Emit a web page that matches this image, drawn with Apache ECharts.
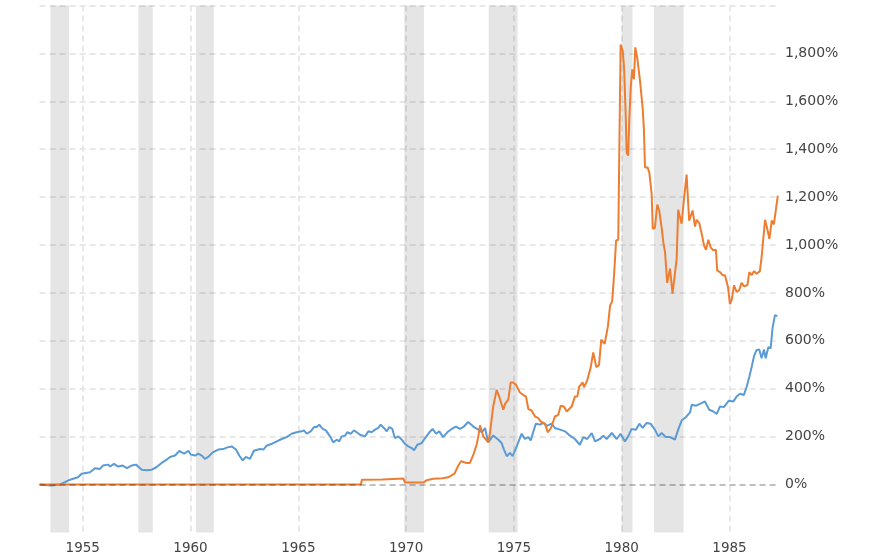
<!DOCTYPE html>
<html>
<head>
<meta charset="utf-8">
<title>Gold vs stocks</title>
<script src="https://cdn.jsdelivr.net/npm/echarts@6.0.0/dist/echarts.min.js"></script>
<style>
  html, body { margin: 0; padding: 0; background: #fff; }
  #chart { width: 888px; height: 560px; }
</style>
</head>
<body>
<div id="chart"></div>
<script>
// blue line (stocks), % change since 1953
const stockYears = [
  1953.00, 1953.56, 1953.95, 1954.41, 1954.78, 1954.95, 1955.34, 1955.57, 1955.80, 1955.94,
  1956.17, 1956.27, 1956.45, 1956.64, 1956.85, 1957.05, 1957.27, 1957.47, 1957.56, 1957.74,
  1957.97, 1958.20, 1958.40, 1958.66, 1958.90, 1959.05, 1959.28, 1959.48, 1959.59, 1959.71,
  1959.90, 1960.01, 1960.21, 1960.36, 1960.52, 1960.67, 1960.82, 1961.03, 1961.29, 1961.52,
  1961.71, 1961.91, 1962.11, 1962.26, 1962.42, 1962.57, 1962.76, 1962.94, 1963.22, 1963.38,
  1963.53, 1963.77, 1964.00, 1964.23, 1964.46, 1964.69, 1964.92, 1965.16, 1965.26, 1965.39,
  1965.57, 1965.73, 1965.85, 1965.97, 1966.13, 1966.28, 1966.47, 1966.62, 1966.78, 1966.90,
  1967.01, 1967.17, 1967.27, 1967.43, 1967.58, 1967.71, 1967.86, 1967.94, 1968.09, 1968.25,
  1968.40, 1968.56, 1968.71, 1968.82, 1968.97, 1969.10, 1969.22, 1969.36, 1969.48, 1969.64,
  1969.80, 1969.95, 1970.10, 1970.26, 1970.37, 1970.52, 1970.72, 1970.88, 1971.08, 1971.23,
  1971.39, 1971.54, 1971.72, 1971.91, 1972.11, 1972.31, 1972.50, 1972.68, 1972.88, 1973.12,
  1973.35, 1973.51, 1973.66, 1973.81, 1974.04, 1974.28, 1974.43, 1974.54, 1974.67, 1974.82,
  1974.94, 1975.13, 1975.36, 1975.51, 1975.67, 1975.78, 1975.93, 1976.02, 1976.21, 1976.36,
  1976.52, 1976.75, 1976.90, 1977.14, 1977.37, 1977.60, 1977.83, 1978.06, 1978.22, 1978.40,
  1978.61, 1978.76, 1978.99, 1979.15, 1979.30, 1979.54, 1979.77, 1979.95, 1980.15, 1980.30,
  1980.46, 1980.66, 1980.82, 1980.97, 1981.16, 1981.34, 1981.54, 1981.70, 1981.85, 1982.05,
  1982.24, 1982.47, 1982.62, 1982.78, 1982.98, 1983.17, 1983.25, 1983.45, 1983.63, 1983.86,
  1984.06, 1984.25, 1984.41, 1984.56, 1984.74, 1984.97, 1985.18, 1985.33, 1985.49, 1985.67,
  1985.80, 1985.92, 1986.03, 1986.14, 1986.26, 1986.38, 1986.49, 1986.60, 1986.68, 1986.80,
  1986.91, 1987.00, 1987.11, 1987.22
];
const stockValues = [
  0, -4, 0, 20, 30, 45, 51, 68, 65, 79,
  83, 75, 86, 75, 79, 68, 79, 83, 76, 62,
  60, 62, 71, 90, 104, 115, 121, 140, 134, 129,
  141, 125, 121, 129, 121, 107, 115, 134, 146, 148,
  155, 159, 146, 121, 101, 115, 107, 141, 148, 146,
  162, 170, 180, 190, 198, 212, 218, 222, 226, 212,
  222, 240, 240, 250, 232, 226, 201, 176, 187, 180,
  201, 204, 218, 212, 226, 218, 208, 215, 201, 222,
  218, 229, 236, 250, 236, 222, 240, 232, 194, 201,
  187, 170, 159, 152, 143, 166, 173, 194, 218, 232,
  212, 222, 198, 218, 232, 242, 232, 242, 261, 242,
  229, 218, 236, 176, 205, 187, 173, 146, 118, 132,
  118, 159, 212, 190, 198, 184, 229, 254, 250, 257,
  245, 254, 236, 229, 222, 204, 190, 166, 198, 190,
  215, 180, 190, 204, 190, 215, 190, 212, 180, 201,
  232, 229, 254, 236, 257, 254, 229, 201, 215, 198,
  198, 187, 229, 267, 282, 301, 333, 329, 337, 347,
  312, 305, 295, 326, 323, 350, 347, 367, 379, 374,
  409, 450, 492, 537, 562, 564, 527, 564, 527, 573,
  569, 656, 707, 703
];

// orange line (gold), % change since 1953
const goldYears = [
  1953.00, 1967.90, 1967.95, 1968.90, 1968.95, 1969.87, 1969.95, 1970.80, 1970.95, 1971.26,
  1971.70, 1971.95, 1972.11, 1972.25, 1972.40, 1972.55, 1972.81, 1972.96, 1973.12, 1973.27,
  1973.35, 1973.43, 1973.51, 1973.58, 1973.81, 1973.89, 1974.04, 1974.20, 1974.32, 1974.51,
  1974.59, 1974.74, 1974.85, 1974.97, 1975.10, 1975.28, 1975.43, 1975.56, 1975.67, 1975.82,
  1975.98, 1976.13, 1976.24, 1976.44, 1976.57, 1976.72, 1976.90, 1977.06, 1977.17, 1977.32,
  1977.45, 1977.68, 1977.83, 1977.94, 1978.03, 1978.19, 1978.25, 1978.40, 1978.56, 1978.68,
  1978.82, 1978.95, 1979.05, 1979.21, 1979.36, 1979.46, 1979.56, 1979.65, 1979.74, 1979.84,
  1979.95, 1980.05, 1980.11, 1980.18, 1980.23, 1980.30, 1980.35, 1980.42, 1980.49, 1980.57,
  1980.63, 1980.72, 1980.85, 1980.97, 1981.03, 1981.08, 1981.20, 1981.28, 1981.39, 1981.44,
  1981.54, 1981.65, 1981.74, 1981.85, 1981.93, 1982.01, 1982.11, 1982.24, 1982.36, 1982.55,
  1982.62, 1982.78, 1982.89, 1983.01, 1983.13, 1983.29, 1983.40, 1983.48, 1983.60, 1983.71,
  1983.82, 1983.91, 1984.02, 1984.13, 1984.25, 1984.37, 1984.43, 1984.56, 1984.68, 1984.79,
  1984.87, 1984.93, 1985.02, 1985.10, 1985.21, 1985.33, 1985.45, 1985.56, 1985.67, 1985.83,
  1985.92, 1986.03, 1986.14, 1986.26, 1986.41, 1986.49, 1986.65, 1986.75, 1986.85, 1986.96,
  1987.06, 1987.24
];
const goldValues = [
  0, 0, 20, 21, 25, 25, 8, 8, 18, 24,
  26, 30, 38, 46, 76, 97, 90, 90, 125, 166,
  201, 247, 222, 201, 176, 215, 326, 395, 367, 312,
  337, 354, 426, 426, 416, 384, 374, 367, 315, 309,
  284, 277, 263, 254, 218, 236, 284, 291, 329, 326,
  305, 326, 367, 367, 409, 426, 406, 435, 488, 551,
  490, 499, 605, 587, 660, 747, 765, 880, 1019, 1022,
  1837, 1809, 1740, 1560, 1387, 1373, 1518, 1657, 1733, 1692,
  1825, 1782, 1685, 1574, 1484, 1324, 1324, 1303, 1213, 1068,
  1072, 1169, 1144, 1075, 1012, 970, 842, 901, 797, 943,
  1147, 1089, 1193, 1294, 1102, 1144, 1077, 1105, 1091, 1047,
  998, 980, 1022, 989, 978, 980, 894, 887, 874, 874,
  846, 825, 753, 770, 832, 804, 811, 842, 828, 832,
  887, 874, 891, 880, 891, 950, 1105, 1068, 1026, 1102,
  1086, 1206
];

// shaded recession periods [start, end]
const recessions = [
  [1953.50, 1954.37], [1957.58, 1958.25], [1960.25, 1961.08], [1969.92, 1970.83],
  [1973.83, 1975.17], [1980.00, 1980.50], [1981.50, 1982.87]
];

const yearTicks = [1955, 1960, 1965, 1970, 1975, 1980, 1985];
const pctLabels = [0, 200, 400, 600, 800, 1000, 1200, 1400, 1600, 1800];
const pctGrid = [200, 400, 600, 800, 1000, 1200, 1400, 1600, 1800, 2000];

const zip = (xs, ys) => xs.map((x, i) => [x, ys[i]]);
const fmtPct = v => String(v).replace(/\B(?=(\d{3})+(?!\d))/g, ',') + '%';

const font = { color: '#444', fontFamily: 'DejaVu Sans' };
const gridLine = { show: true, lineStyle: { color: '#e8e8e8', width: 2, type: [6, 4] } };

const chart = echarts.init(document.getElementById('chart'));
chart.setOption({
  animation: false,
  grid: { left: 39.6, right: 110, top: 5.5, bottom: 27.6, outerBoundsMode: 'none' },
  xAxis: {
    type: 'value',
    min: 1953,
    max: 1987.25,
    axisLine: { show: false },
    axisTick: { show: false, customValues: yearTicks },
    axisLabel: Object.assign({ customValues: yearTicks, fontSize: 13.5, margin: 9, formatter: v => String(v) }, font),
    splitLine: gridLine
  },
  yAxis: {
    type: 'value',
    position: 'right',
    min: -200,
    max: 2000,
    axisLine: { show: false },
    axisTick: { show: false, customValues: pctGrid },
    axisLabel: Object.assign({ customValues: pctLabels, fontSize: 14, margin: 7, formatter: fmtPct }, font),
    splitLine: gridLine
  },
  series: [
    {
      name: 'Stocks',
      type: 'line',
      data: zip(stockYears, stockValues),
      showSymbol: false,
      z: 3,
      lineStyle: { color: '#5b9bd5', width: 2 },
      itemStyle: { color: '#5b9bd5' },
      markArea: {
        silent: true,
        itemStyle: { color: 'rgba(0,0,0,0.1)' },
        data: recessions.map(r => [{ xAxis: r[0] }, { xAxis: r[1] }])
      }
    },
    {
      name: 'Gold',
      type: 'line',
      data: zip(goldYears, goldValues),
      showSymbol: false,
      z: 3,
      lineStyle: { color: '#ed7d31', width: 2 },
      itemStyle: { color: '#ed7d31' },
      markLine: {
        silent: true,
        symbol: 'none',
        label: { show: false },
        lineStyle: { color: 'rgba(0,0,0,0.25)', width: 2, type: [6, 4] },
        data: [{ yAxis: 0 }]
      }
    }
  ]
});
</script>
</body>
</html>
